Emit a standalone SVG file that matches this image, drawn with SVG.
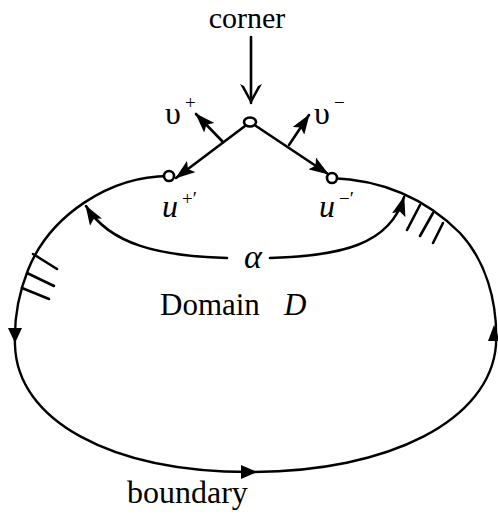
<svg xmlns="http://www.w3.org/2000/svg" width="498" height="521" viewBox="0 0 498 521">
<style>
.ln{fill:none;stroke:#000;stroke-width:2.6;stroke-linecap:round}
.bd{fill:none;stroke:#000;stroke-width:2.4}
.t{font-family:"Liberation Serif","Times New Roman",serif;fill:#000}
.i{font-style:italic}
.pt{fill:#fff;stroke:#000;stroke-width:2.6}
</style>
<defs>
<marker id="ah" viewBox="0 0 20 14" refX="19" refY="7" markerWidth="20" markerHeight="14" orient="auto" markerUnits="userSpaceOnUse">
<path d="M0,0 L20,7 L0,14 L4,7 Z" fill="#000"/>
</marker>
<marker id="ahbig" viewBox="0 0 20 22" refX="19" refY="11" markerWidth="20" markerHeight="22" orient="auto" markerUnits="userSpaceOnUse">
<path d="M0,0 L20,11 L0,22 L2,18 L15,11 L2,4 Z" fill="#000"/>
</marker>
</defs>
<rect width="498" height="521" fill="#fff"/>
<g id="boundary">
<path class="bd" d="M169,176 C110,176 50,215 28,270 C18,295 14,320 15,345 C17,420 110,472 250,472 C390,472 490,420 496,345 C498,300 485,260 460,233 C430,203 390,180 331,178"/>
<polygon points="8,328 22,328 15,343"/>
<polygon points="241,465 241,479 257,472"/>
<polygon points="488,341 500,341 494,325"/>
<g class="ln">
<line x1="33" y1="254" x2="57" y2="269"/>
<line x1="27" y1="273" x2="54" y2="286"/>
<line x1="22" y1="288" x2="49" y2="299"/>
<line x1="420" y1="205" x2="407" y2="230"/>
<line x1="433" y1="213" x2="420" y2="236"/>
<line x1="443" y1="223" x2="433" y2="243"/>
</g>
<text class="t" x="127" y="503" font-size="32">boundary</text>
</g>
<g id="connectors">
<line class="ln" x1="251" y1="37" x2="251" y2="103" marker-end="url(#ahbig)"/>
<line class="ln" x1="245" y1="126" x2="176" y2="178" marker-end="url(#ah)"/>
<line class="ln" x1="256" y1="126" x2="328" y2="174" marker-end="url(#ah)"/>
<line class="ln" x1="223" y1="142" x2="196" y2="114" marker-end="url(#ah)"/>
<line class="ln" x1="289" y1="145" x2="309" y2="115" marker-end="url(#ah)"/>
<path class="ln" d="M227,258 C160,256 110,245 86,206" marker-end="url(#ah)"/>
<path class="ln" d="M270,258 C340,256 390,245 404,197" marker-end="url(#ah)"/>
</g>
<g id="corner">
<text class="t" x="247" y="28" font-size="30" text-anchor="middle">corner</text>
<ellipse class="pt" cx="250" cy="122" rx="6" ry="4.5"/>
</g>
<g id="u-plus">
<circle class="pt" cx="169" cy="176" r="5"/>
<text class="t i" x="162" y="217" font-size="32">u</text>
<text class="t" x="182" y="205" font-size="19">+′</text>
</g>
<g id="u-minus">
<circle class="pt" cx="332" cy="178" r="5"/>
<text class="t i" x="319" y="217" font-size="32">u</text>
<text class="t" x="339" y="205" font-size="19">−′</text>
</g>
<g id="v-plus">
<text class="t" x="165" y="124" font-size="32">υ</text>
<text class="t" x="185" y="109" font-size="19">+</text>
</g>
<g id="v-minus">
<text class="t" x="314" y="124" font-size="32">υ</text>
<text class="t" x="334" y="109" font-size="19">−</text>
</g>
<g id="alpha">
<text class="t i" x="253" y="268" font-size="34" text-anchor="middle">α</text>
</g>
<g id="domain">
<text class="t" x="160" y="315" font-size="31">Domain</text>
<text class="t i" x="284" y="315" font-size="31">D</text>
</g>
</svg>
